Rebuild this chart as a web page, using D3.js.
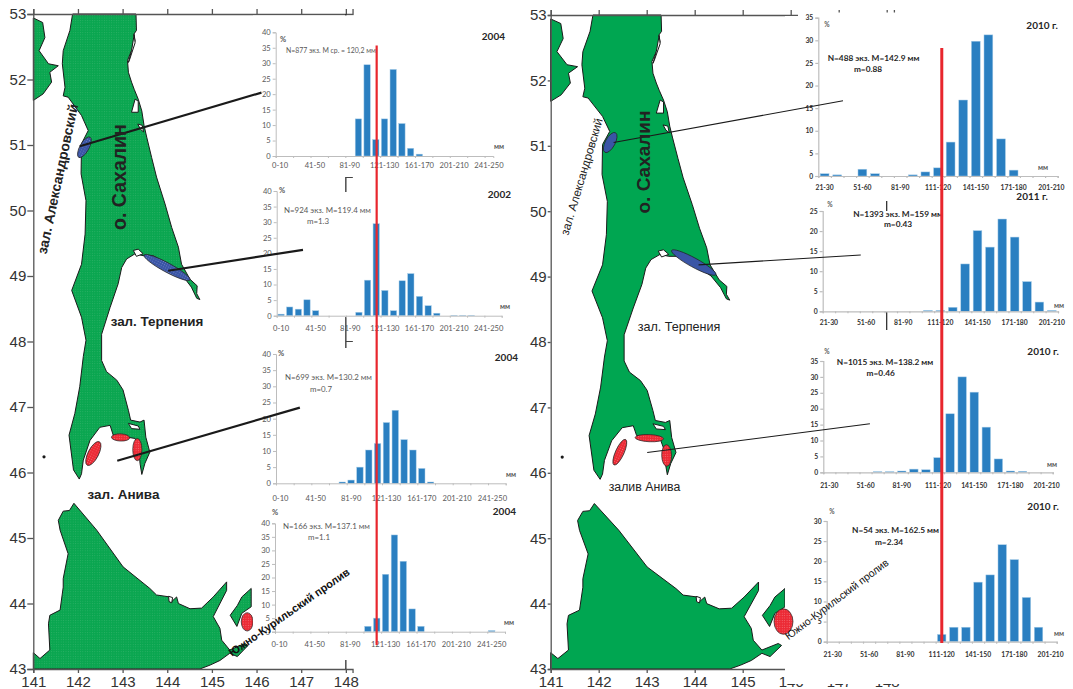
<!DOCTYPE html>
<html>
<head>
<meta charset="utf-8">
<title>Sakhalin size distributions</title>
<script src="https://cdn.jsdelivr.net/npm/d3@7"></script>
<style>
body { margin: 0; background: #fff; }
svg { display: block; }
text { font-family: "Liberation Sans", Arial, sans-serif; }
.chart text { font-family: Lato, "Open Sans", sans-serif; }
</style>
</head>
<body>
<div id="chart"></div>
<script>
// size classes, mm
var binsLeft = ["0-10","11-20","21-30","31-40","41-50","51-60","61-70","71-80","81-90","91-100","101-110","111-120","121-130","131-140","141-150","151-160","161-170","171-180","181-190","191-200","201-210","211-220","221-230","231-240","241-250","251-260"];
var binsRight = ["21-30","31-40","41-50","51-60","61-70","71-80","81-90","91-100","101-110","111-120","121-130","131-140","141-150","151-160","161-170","171-180","181-190","191-200","201-210"];

// percent by size class
var alex2004 = [0,0,0,0,0,0,0,0,0,12,29.5,5.3,12,28,10.5,2.5,0.6,0,0,0,0,0,0,0,0];
var terp2002 = [0.5,2.8,2.1,5.1,1.6,0,0,0,0,1.1,11.4,29.5,8.1,1.6,11.2,13.5,6.2,3.2,0.8,0,0.1,0.1,0.1,0,0,0];
var aniva2004 = [0,0,0,0,0,0,0,0.4,1,5,10.3,12.3,18.8,22.6,13.5,10.3,4.6,0.4,0,0,0,0,0,0,0,0];
var kuril2004 = [0,0,0,0,0,0,0,0,0,0,2,5,21.2,35.7,26,8.4,2,0,0,0,0,0,0,0,0.4,0];
var alex2010 = [0.5,0.25,0,1.5,0.5,0,0,0.25,0.9,1.8,7.5,16.8,29.8,31.2,8.2,1.3,0,0,0];
var terp2011 = [0,0,0,0,0,0,0,0,0.2,0.2,1,11.8,20.1,16,23,18.5,7.4,2.3,0.2];
var aniva2010 = [0,0,0,0,0.2,0.2,0.4,1,0.8,4.6,18.4,30,25.2,14.2,4.2,0.4,0.3,0,0];
var kuril2010 = [0,0,0,0,0,0,0,0,0,1.8,3.6,3.6,14.8,16.6,24.1,20.4,11,3.6,0];

// coast outlines, [lon, lat]
var sakhalin = [[141.88,53],[143.30,53],[143.31,52.75],[143.25,52.69],[143.28,52.59],[143.20,52.44],[143.11,52.29],[143.13,52.11],[143.20,51.96],[143.26,51.85],[143.35,51.70],[143.43,51.52],[143.48,51.30],[143.54,51.12],[143.65,50.81],[143.76,50.51],[143.95,50.10],[144.10,49.74],[144.25,49.44],[144.32,49.18],[144.51,48.95],[144.67,48.85],[144.66,48.73],[144.73,48.64],[144.66,48.66],[144.54,48.83],[144.34,49.01],[143.99,49.18],[143.69,49.31],[143.46,49.31],[143.28,49.34],[143.09,49.26],[142.98,49.13],[142.90,48.88],[142.72,48.52],[142.53,48.11],[142.53,47.71],[142.64,47.54],[142.87,47.41],[143.01,47.26],[143.13,46.95],[143.18,46.80],[143.39,46.77],[143.48,46.80],[143.52,46.54],[143.61,46.31],[143.50,46.14],[143.43,45.97],[143.39,46.14],[143.37,46.34],[143.28,46.52],[143.09,46.54],[142.79,46.57],[142.72,46.72],[142.49,46.69],[142.27,46.49],[142.12,46.19],[142.08,45.98],[142.03,45.90],[141.90,46.04],[141.80,46.57],[141.93,46.90],[142.04,47.31],[142.12,47.77],[142.18,48.02],[142.08,48.37],[141.86,48.78],[142.08,49.18],[142.16,49.64],[142.18,50.15],[142.07,50.56],[142.08,51.02],[142.23,51.22],[142.08,51.45],[141.78,51.73],[141.67,51.75],[141.71,51.88],[141.65,52.24],[141.67,52.44],[141.82,52.75]];
var mainland = [[141,52.94],[141.21,52.87],[141.26,52.64],[141.13,52.44],[141.34,52.24],[141.56,52.21],[141.37,52.11],[141.41,51.96],[141.22,51.78],[141,51.68]];
var hokkaido = [[141,43.25],[141.15,43.16],[141.37,43.29],[141.34,43.69],[141.37,43.82],[141.60,43.90],[141.67,44.25],[141.67,44.38],[141.78,44.76],[141.60,45.12],[141.56,45.27],[141.67,45.41],[141.81,45.42],[141.91,45.53],[142.42,45.12],[143.01,44.56],[143.61,44.23],[143.76,44.13],[144.06,44.10],[144.10,44.03],[144.21,44.10],[144.25,44.00],[144.51,43.92],[144.77,43.93],[145.03,44.10],[145.33,44.33],[145.33,44.20],[145.03,43.80],[145.18,43.62],[145.22,43.44],[145.40,43.29],[145.74,43.39],[145.81,43.36],[145.57,43.19],[145.40,43.24],[145.18,43.13],[144.96,43.06],[144.73,43],[141,43]];
var kunashir = [[145.41,43.82],[145.57,43.97],[145.67,44.10],[145.88,44.23],[145.88,43.95],[145.67,43.85],[145.56,43.65]];
var lagoons = [
  [[143.20,51.50],[143.28,51.70],[143.35,51.67],[143.35,51.50]],
  [[143.24,49.39],[143.35,49.41],[143.46,49.34],[143.31,49.30]],
  [[143.13,46.75],[143.35,46.71],[143.39,46.66],[143.20,46.67]],
  [[143.26,52.69],[143.28,52.56],[143.16,52.31],[143.13,52.26],[143.20,52.44]],
  [[143.34,51.32],[143.44,51.30],[143.47,51.20],[143.40,51.24]],
  [[144.03,44.11],[144.12,44.09],[144.10,44.01],[144.04,44.03]]
];
var moneron = [141.24,46.24];

// sampling areas: two ends of the long axis and width in degrees of latitude
var blueLeft = [[[142.02,50.81],[142.27,51.12],0.14],[[143.48,49.32],[144.51,48.94],0.14]];
var redLeft = [[[142.21,46.11],[142.48,46.47],0.16],[[142.75,46.54],[143.16,46.53],0.11],[[143.33,46.52],[143.33,46.18],0.14],[[145.79,43.86],[145.79,43.58],0.18]];
var blueRight = [[[142.13,50.90],[142.35,51.20],0.15],[[143.52,49.40],[144.44,49.03],0.14]];
var redRight = [[[142.32,46.12],[142.56,46.51],0.13],[[142.76,46.54],[143.35,46.52],0.11],[[143.41,46.43],[143.42,46.10],0.15],[[145.85,43.92],[145.85,43.53],0.29]];

// leader lines from the areas towards the charts
var leadersLeft = [[[142.04,50.98],[146.11,51.80]],[[144.02,49.08],[147.04,49.40]],[[142.88,46.18],[146.97,46.99]]];
var leadersRight = [[[142.31,51.05],[147.09,51.69]],[[144.08,49.18],[147.46,49.33]],[[143.01,46.31],[147.65,46.75]]];

var lonTicks = [141,142,143,144,145,146,147,148];
var latTicks = [43,44,45,46,47,48,49,50,51,52,53];

var refSizeLeft = 116, refSizeRight = 119;

var width = 1073, height = 689;

var svg = d3.select("#chart").append("svg")
    .attr("width", width)
    .attr("height", height);

var defs = svg.append("defs");
function stipple(id, base, dot) {
    var p = defs.append("pattern").attr("id", id)
        .attr("width", 2.4).attr("height", 2.4)
        .attr("patternUnits", "userSpaceOnUse");
    p.append("rect").attr("width", 2.4).attr("height", 2.4).attr("fill", base);
    p.append("circle").attr("cx", 1.2).attr("cy", 1.2).attr("r", 0.5).attr("fill", dot);
}
stipple("landDots", "#0aa650", "#32b46a");
stipple("blueDots", "#3a55a6", "#7f90c6");
stipple("redDots", "#ec2a35", "#f47a80");

function drawMap(o) {
    var g = svg.append("g");
    var x = d3.scaleLinear().domain([141, 148.15]).range([o.x0, o.x0 + 7.15 * o.pxLon]);
    var y = d3.scaleLinear().domain([43, 53]).range([669, o.top]);
    var path = d3.line().x(function(d) { return x(d[0]); }).y(function(d) { return y(d[1]); });

    function ring(pts, fill) {
        g.append("path")
            .attr("d", path(pts) + "Z")
            .attr("fill", fill)
            .attr("stroke", "#1a1a1a")
            .attr("stroke-width", o.coast)
            .attr("stroke-linejoin", "round");
    }
    [sakhalin, mainland, hokkaido, kunashir].forEach(function(p) { ring(p, o.land); });
    lagoons.forEach(function(p) { ring(p, "#fff"); });
    g.append("circle").attr("cx", x(moneron[0])).attr("cy", y(moneron[1])).attr("r", 1.6).attr("fill", "#1a1a1a");

    function ellipses(list, fill) {
        g.selectAll(null).data(list).enter().append("ellipse")
            .attr("transform", function(d) {
                var ax = x(d[0][0]), ay = y(d[0][1]), bx = x(d[1][0]), by = y(d[1][1]);
                var a = Math.atan2(by - ay, bx - ax) * 180 / Math.PI;
                return "translate(" + (ax + bx) / 2 + "," + (ay + by) / 2 + ") rotate(" + a + ")";
            })
            .attr("rx", function(d) {
                return Math.hypot(x(d[1][0]) - x(d[0][0]), y(d[1][1]) - y(d[0][1])) / 2;
            })
            .attr("ry", function(d) { return (y(0) - y(d[2])) / 2; })
            .attr("fill", fill)
            .attr("stroke", "#222")
            .attr("stroke-width", 0.7);
    }

    if (!o.ellipsesOverMask) {
        ellipses(o.blue, o.blueFill);
        ellipses(o.red, o.redFill);
    }

    function styleAxis(a) {
        a.selectAll("path,line").attr("stroke", "#555").attr("stroke-width", 1.3);
        a.selectAll("text").attr("fill", "#333").attr("font-size", 15).attr("font-family", "'Liberation Sans', Arial, sans-serif");
    }
    g.append("g").attr("transform", "translate(" + o.x0 + ",0)")
        .call(d3.axisLeft(y).tickValues(latTicks).tickSize(o.latTick).tickPadding(o.latPad).tickFormat(d3.format("d")))
        .call(styleAxis);
    g.append("g").attr("transform", "translate(0," + y(53) + ")")
        .call(d3.axisTop(x).tickValues(lonTicks).tickSize(5).tickFormat(""))
        .call(styleAxis);
    g.append("g").attr("transform", "translate(0," + y(43) + ")")
        .call(d3.axisBottom(x).tickValues(lonTicks).tickSize(4).tickPadding(o.lonPad).tickFormat(d3.format("d")))
        .call(styleAxis);
    // east edge of the frame, mostly hidden by the charts
    g.append("line").attr("x1", x(148)).attr("x2", x(148)).attr("y1", y(53)).attr("y2", y(43))
        .attr("stroke", "#222").attr("stroke-width", 1.2);
    g.append("line").attr("x1", x(148)).attr("x2", x(148) + 7).attr("y1", y(48)).attr("y2", y(48))
        .attr("stroke", "#444").attr("stroke-width", 1);

    o.masks.forEach(function(m) {
        g.append("rect").attr("x", m[0]).attr("y", m[1]).attr("width", m[2] - m[0]).attr("height", m[3] - m[1]).attr("fill", "#fff");
    });
    if (o.stub) {
        g.append("line").attr("x1", x(148)).attr("x2", x(148) + 7).attr("y1", o.stub).attr("y2", o.stub)
            .attr("stroke", "#444").attr("stroke-width", 1);
    }

    if (o.ellipsesOverMask) {
        ellipses(o.blue, o.blueFill);
        ellipses(o.red, o.redFill);
    }
    return { x: x, y: y };
}

function drawChart(o) {
    var g = svg.append("g").attr("class", "chart");
    var n = o.bins.length;
    var x = d3.scaleBand().domain(o.bins).range([o.x0, o.x1]).paddingInner(o.pad).paddingOuter(o.pad / 2);
    var y = d3.scaleLinear().domain([0, o.max]).range([o.y0, o.yTop]);
    var edges = d3.scaleLinear().domain([0, n]).range([o.x0, o.x1]);

    g.selectAll("rect.bar").data(o.values).enter().append("rect")
        .attr("class", "bar")
        .attr("x", function(d, i) { return x(o.bins[i]); })
        .attr("y", function(d) { return y(d); })
        .attr("width", x.bandwidth())
        .attr("height", function(d) { return o.y0 - y(d); })
        .attr("fill", function(d) { return d > 0 ? "#2a7fc1" : "none"; })
        .attr("stroke", function(d) { return d > 0 ? "#a8cde8" : "none"; })
        .attr("stroke-width", 0.5);

    function styleLine(a) {
        a.selectAll("path,line").attr("stroke", o.axisColor).attr("stroke-width", o.axisW);
        a.selectAll("text").attr("fill", o.labelColor).attr("font-size", o.fs).attr("font-weight", o.fw);
    }
    g.append("g").attr("transform", "translate(0," + o.y0 + ")")
        .call(d3.axisBottom(edges).tickValues(d3.range(0, n + 1, o.tickEvery)).tickSize(2).tickFormat(""))
        .call(styleLine);
    var labelBins = o.bins.filter(function(d, i) { return i % o.labelEvery === 0; });
    g.append("g").attr("transform", "translate(0," + o.y0 + ")")
        .call(d3.axisBottom(x).tickValues(labelBins).tickSize(0).tickPadding(o.labelGap))
        .call(styleLine)
        .select(".domain").remove();
    g.append("g").attr("transform", "translate(" + o.x0 + ",0)")
        .call(d3.axisLeft(y).tickValues(d3.range(0, o.max + 1, 5)).tickSize(3).tickPadding(2))
        .call(styleLine);

    o.notes.forEach(function(t) {
        g.append("text").attr("x", t[1]).attr("y", t[2])
            .attr("text-anchor", t[3])
            .attr("font-size", t[4])
            .attr("font-weight", t[5])
            .attr("fill", t[6])
            .text(t[0]);
    });
    return { x: x };
}

var grey = "#595959", dark = "#262626";

var leftBase = { pad: 0.27, tickEvery: 2, labelEvery: 4, axisColor: "#bdbdbd", axisW: 1, labelColor: grey, fs: 7.6, fw: "normal", max: 40 };
var rightBase = { bins: binsRight, pad: 0.3, tickEvery: 1, labelEvery: 3, axisColor: "#bdbdbd", axisW: 1.2, labelColor: "#333", fs: 6.8, fw: "bold" };

var mapL = drawMap({
    x0: 33.3, pxLon: 44.65, top: 14, land: "url(#landDots)", coast: 1,
    latTick: 6, latPad: 1, lonPad: 3, stub: 177.5,
    blue: blueLeft, red: redLeft, blueFill: "url(#blueDots)", redFill: "url(#redDots)",
    masks: [[253, 15.5, 530, 177], [253, 192, 530, 317], [253, 348, 530, 660]]
});
var mapR = drawMap({
    x0: 550.7, pxLon: 48, top: 15, land: "#00a651", coast: 1,
    latTick: 3, latPad: 1, lonPad: 3, ellipsesOverMask: true,
    blue: blueRight, red: redRight, blueFill: "#3a55a6", redFill: "url(#redDots)",
    masks: [[798, 12.5, 1073, 16.5], [785, 16, 1073, 201], [785, 211, 1073, 312], [785, 330, 1073, 684]]
});

drawChart(Object.assign({}, leftBase, {
    bins: binsLeft.slice(0, 25), values: alex2004, x0: 275.7, x1: 493.3, y0: 156, yTop: 32.3, labelGap: 7,
    notes: [["N=877 экз. M ср. = 120,2 мм", 286, 53, "start", 6.9, "normal", grey],
            ["2004", 505, 40, "end", 10, "bold", dark],
            ["%", 283, 42, "middle", 7.5, "bold", grey],
            ["мм", 499, 148.5, "middle", 7, "bold", grey]]
}));
drawChart(Object.assign({}, leftBase, {
    bins: binsLeft, values: terp2002, x0: 276.7, x1: 501.7, y0: 315.7, yTop: 191, labelGap: 10,
    notes: [["N=924 экз. M=119.4 мм", 284, 213, "start", 7.9, "normal", grey],
            ["m=1.3", 318, 224, "middle", 7.9, "normal", grey],
            ["2002", 511, 198, "end", 10, "bold", dark],
            ["%", 282, 193, "middle", 7.5, "bold", grey],
            ["мм", 505, 309, "middle", 7, "bold", grey]]
}));
drawChart(Object.assign({}, leftBase, {
    bins: binsLeft, values: aniva2004, x0: 276, x1: 505.7, y0: 483.3, yTop: 354, labelGap: 12,
    notes: [["N=699 экз. M=130.2 мм", 285, 380, "start", 7.9, "normal", grey],
            ["m=0.7", 321, 392, "middle", 7.9, "normal", grey],
            ["2004", 518, 361, "end", 10, "bold", dark],
            ["%", 281, 356, "middle", 7.5, "bold", grey],
            ["мм", 511, 477, "middle", 7, "bold", grey]]
}));
drawChart(Object.assign({}, leftBase, {
    bins: binsLeft, values: kuril2004, x0: 275, x1: 505, y0: 631.7, yTop: 523.3, labelGap: 10,
    notes: [["N=166 экз. M=137.1 мм", 283, 529, "start", 7.9, "normal", grey],
            ["m=1.1", 319, 540, "middle", 7.9, "normal", grey],
            ["2004", 516, 515, "end", 10, "bold", dark],
            ["%", 275, 515, "middle", 7.5, "bold", grey],
            ["мм", 509, 625, "middle", 7, "bold", grey]]
}));

drawChart(Object.assign({}, rightBase, {
    values: alex2010, max: 35, x0: 818.3, x1: 1057.7, y0: 176, yTop: 17.7, labelGap: 9,
    notes: [["N=488 экз. M=142.9 мм", 873.5, 61, "middle", 8.3, "bold", dark],
            ["m=0.88", 868, 72, "middle", 8.3, "bold", dark],
            ["2010 г.", 1058, 29, "end", 10, "bold", dark],
            ["%", 827, 27, "middle", 6.5, "bold", grey],
            ["мм", 1043, 170, "middle", 7, "bold", grey]]
}));
drawChart(Object.assign({}, rightBase, {
    values: terp2011, max: 25, x0: 822.7, x1: 1058, y0: 311.3, yTop: 211, labelGap: 9,
    notes: [["N=1393 экз. M=159 мм", 898, 217, "middle", 8.3, "bold", dark],
            ["m=0.43", 898, 227, "middle", 8.3, "bold", dark],
            ["2011 г.", 1048, 200, "end", 10, "bold", dark],
            ["%", 830, 207, "middle", 6.5, "bold", grey],
            ["мм", 1059, 308, "middle", 7, "bold", grey]]
}));
drawChart(Object.assign({}, rightBase, {
    values: aniva2010, max: 35, x0: 823.3, x1: 1052.7, y0: 472.3, yTop: 361, labelGap: 11,
    notes: [["N=1015 экз. M=138.2 мм", 885, 365, "middle", 8.3, "bold", dark],
            ["m=0.46", 880.7, 376, "middle", 8.3, "bold", dark],
            ["2010 г.", 1059, 354.5, "end", 10, "bold", dark],
            ["%", 827, 354, "middle", 6.5, "bold", grey],
            ["мм", 1052, 467, "middle", 7, "bold", grey]]
}));
drawChart(Object.assign({}, rightBase, {
    values: kuril2010, max: 30, x0: 826.7, x1: 1056.7, y0: 641.7, yTop: 521, labelGap: 10.5,
    notes: [["N=54 экз. M=162.5 мм", 895.5, 533, "middle", 8.3, "bold", dark],
            ["m=2.34", 889, 545, "middle", 8.3, "bold", dark],
            ["2010 г.", 1059, 510, "end", 10, "bold", dark],
            ["%", 832, 514, "middle", 6.5, "bold", grey],
            ["мм", 1059, 636, "middle", 7, "bold", grey]]
}));

// leader lines go over the charts
function leaders(list, m, w) {
    svg.selectAll(null).data(list).enter().append("line")
        .attr("x1", function(d) { return m.x(d[0][0]); })
        .attr("y1", function(d) { return m.y(d[0][1]); })
        .attr("x2", function(d) { return m.x(d[1][0]); })
        .attr("y2", function(d) { return m.y(d[1][1]); })
        .attr("stroke", "#1a1a1a")
        .attr("stroke-width", w);
}
leaders(leadersLeft, mapL, 2.2);
leaders(leadersRight, mapR, 1.1);

// reference size, same scale as the top chart of each column
var sizeA = d3.scaleLinear().domain([0, 250]).range([275.7, 493.3]);
var sizeE = d3.scaleLinear().domain([21, 211]).range([818.3, 1057.7]);
svg.append("line").attr("x1", sizeA(refSizeLeft)).attr("x2", sizeA(refSizeLeft)).attr("y1", 45.5).attr("y2", 645)
    .attr("stroke", "#e8262d").attr("stroke-width", 2.2);
svg.append("line").attr("x1", sizeE(refSizeRight)).attr("x2", sizeE(refSizeRight)).attr("y1", 48).attr("y2", 643)
    .attr("stroke", "#e8262d").attr("stroke-width", 3);

// place names
function label(txt, cx, cy, angle, size, weight, fill) {
    svg.append("text")
        .attr("transform", "translate(" + cx + "," + cy + ") rotate(" + angle + ")")
        .attr("text-anchor", "middle")
        .attr("dominant-baseline", "central")
        .attr("font-size", size)
        .attr("font-weight", weight)
        .attr("fill", fill)
        .text(txt);
}
label("о. Сахалин", 119, 177, -90, 19.5, "bold", "#222");
label("зал. Александровский", 58, 179, -78, 13.8, "bold", "#222");
label("зал. Терпения", 157, 321, 0, 13.4, "bold", "#222");
label("зал. Анива", 123.5, 494, 0, 13.5, "bold", "#222");
label("Южно-Курильский пролив", 289, 612, -35, 11, "bold", "#111");

label("о. Сахалин", 643, 162, -90, 19, "bold", "#222");
label("зал. Александровский", 581.7, 176.7, -73.4, 11.8, "normal", "#222");
label("зал. Терпения", 679, 327, 0, 12.6, "normal", "#222");
label("залив Анива", 644.5, 487, 0, 12.3, "normal", "#222");
label("Южно-Курильский пролив", 836.5, 599, -37, 10.5, "normal", "#111");
</script>
</body>
</html>
